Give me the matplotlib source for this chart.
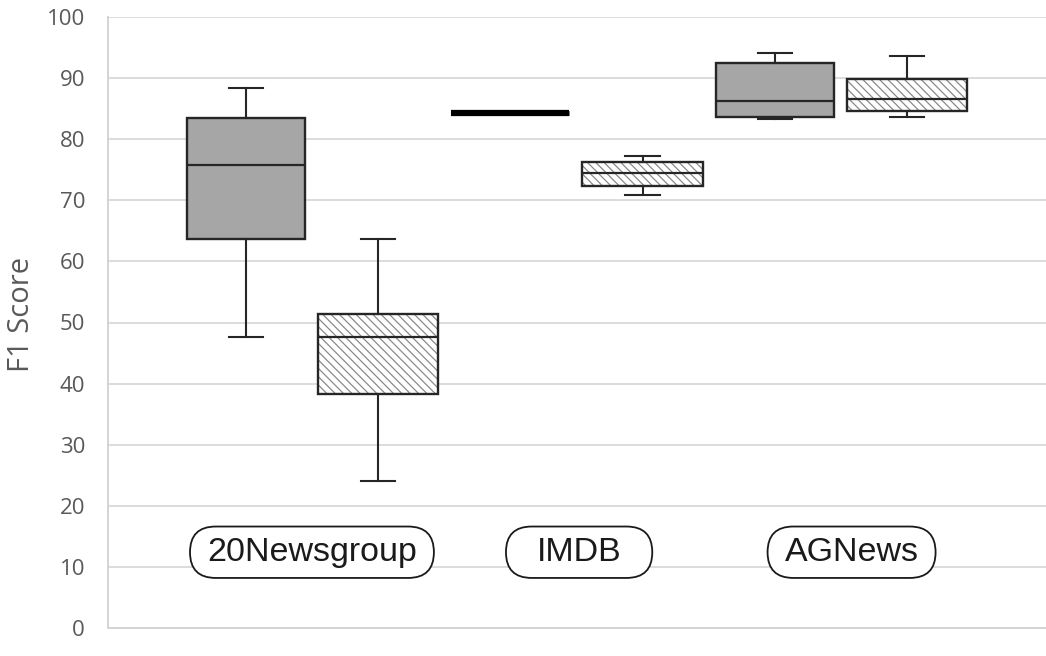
import matplotlib
matplotlib.use("Agg")
import matplotlib.pyplot as plt
import matplotlib.colors as mcolors
from matplotlib.patches import BoxStyle

# ---- data ----
categories = ["20Newsgroup", "IMDB", "AGNews"]

# series A: solid grey boxes
a_whislo = [47.7, 84.3, 83.3]
a_q1     = [63.6, 84.3, 83.6]
a_med    = [75.7, 84.3, 86.3]
a_q3     = [83.5, 84.3, 92.5]
a_whishi = [88.3, 84.3, 94.1]

# series B: hatched boxes
b_whislo = [24.1, 70.9, 83.6]
b_q1     = [38.3, 72.3, 84.6]
b_med    = [47.7, 74.4, 86.5]
b_q3     = [51.4, 76.2, 89.9]
b_whishi = [63.6, 77.3, 93.6]

yticks = [0, 10, 20, 30, 40, 50, 60, 70, 80, 90, 100]
ylabel = "F1 Score"

# ---- figure ----
W, H = 1046, 656
fig = plt.figure(figsize=(W / 100, H / 100), dpi=100)
ax = fig.add_axes([108 / W, (656 - 628) / H, (1046 - 108) / W, 611 / H])


def stats(lo, q1, med, q3, hi):
    return [dict(whislo=l, q1=a, med=m, q3=b, whishi=h, fliers=[])
            for l, a, m, b, h in zip(lo, q1, med, q3, hi)]


n = len(categories)
pos_a = [i - 0.25 for i in range(n)]
pos_b = [i + 0.25 for i in range(n)]
edge = "#262626"

plt.rcParams["hatch.linewidth"] = 0.9
line_kw = dict(color=edge, linewidth=1.5)
ra = ax.bxp(stats(a_whislo, a_q1, a_med, a_q3, a_whishi), positions=pos_a,
            widths=0.445, capwidths=0.13, patch_artist=True,
            boxprops=dict(facecolor="#a6a6a6", edgecolor=edge, linewidth=1.7),
            medianprops=dict(color=edge, linewidth=1.6),
            whiskerprops=line_kw, capprops=line_kw, showfliers=False, zorder=3)
rb = ax.bxp(stats(b_whislo, b_q1, b_med, b_q3, b_whishi), positions=pos_b,
            widths=0.455, capwidths=0.13, patch_artist=True,
            boxprops=dict(facecolor="white", edgecolor=edge, linewidth=1.7),
            medianprops=dict(color=edge, linewidth=1.6),
            whiskerprops=line_kw, capprops=line_kw, showfliers=False, zorder=3)

for p in rb["boxes"]:
    p.set_hatch("\\\\\\\\")
    if hasattr(p, "set_hatchcolor"):
        p.set_hatchcolor("#8a8a8a")
    else:
        p._hatch_color = mcolors.to_rgba("#8a8a8a")

# zero-height boxes appear as one thick black bar
for i, (box, med) in enumerate(zip(ra["boxes"], ra["medians"])):
    if a_q1[i] == a_q3[i]:
        box.set_linewidth(3.5)
        box.set_edgecolor("black")
        med.set_linewidth(4.5)
        med.set_color("black")


def pill(padx, pady, min_w):
    """Rounded label box with separate x/y padding and a minimum width (in em)."""
    def style(x0, y0, width, height, mutation_size):
        w = max(width + 2 * padx * mutation_size, min_w * mutation_size)
        h = height + 2 * pady * mutation_size
        cx, cy = x0 + width / 2, y0 + height / 2
        r = 0.5 * h / mutation_size
        return BoxStyle.Round(pad=0, rounding_size=r)(
            cx - w / 2, cy - h / 2, w, h, mutation_size)
    return style


# category labels in rounded boxes
label_dx = [0.0, 0.01, 0.04]
label_minw = [0.0, 4.3, 0.0]
for i, name in enumerate(categories):
    ax.text(i + label_dx[i], 12.4, name, ha="center", va="center",
            fontsize=24.5, family=["Liberation Sans Narrow", "Liberation Sans"],
            color="#1a1a1a", zorder=4,
            bbox=dict(boxstyle=pill(0.5, 0.3, label_minw[i]),
                      facecolor="white", edgecolor="#1a1a1a", linewidth=1.3))

ax.set_xlim(-0.771, 2.775)
ax.set_ylim(0, 100)
ax.set_yticks(yticks)
ax.set_xticks([])
ax.yaxis.grid(True, color="#dcdcdc", linewidth=1.4, zorder=0)
ax.set_axisbelow(True)
for s in ["top", "right"]:
    ax.spines[s].set_visible(False)
for s in ["left", "bottom"]:
    ax.spines[s].set_color("#d4d4d4")
    ax.spines[s].set_linewidth(1.4)
ax.tick_params(axis="y", length=0, pad=16.5, labelsize=16, labelcolor="#595959")
for t in ax.get_yticklabels():
    t.set_family("Open Sans")
ax.set_ylabel(ylabel, fontsize=21, color="#595959", family="Open Sans",
              va="center")
ax.yaxis.set_label_coords(22 / W, (656 - 314) / H, transform=fig.transFigure)

fig.savefig("out.png", dpi=100)
